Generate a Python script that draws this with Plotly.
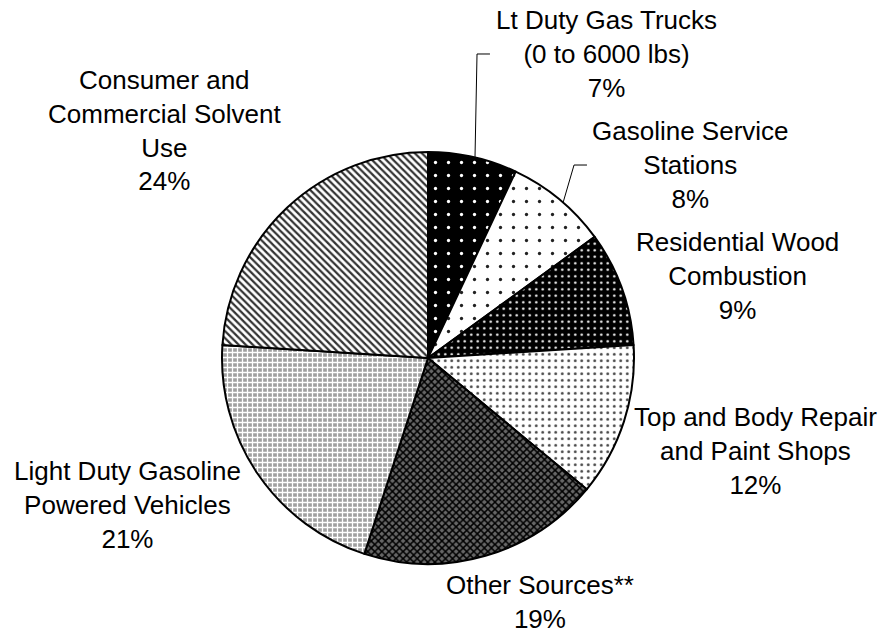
import plotly.graph_objects as go

# ---- data ----
categories = [
    "Lt Duty Gas Trucks (0 to 6000 lbs)",
    "Gasoline Service Stations",
    "Residential Wood Combustion",
    "Top and Body Repair and Paint Shops",
    "Other Sources**",
    "Light Duty Gasoline Powered Vehicles",
    "Consumer and Commercial Solvent Use",
]
values = [7, 8, 9, 12, 19, 21, 24]
label_texts = [
    "Lt Duty Gas Trucks<br>(0 to 6000 lbs)",
    "Gasoline Service<br>Stations",
    "Residential Wood<br>Combustion",
    "Top and Body Repair<br>and Paint Shops",
    "Other Sources**",
    "Light Duty Gasoline<br>Powered Vehicles",
    "Consumer and<br>Commercial Solvent<br>Use",
]

# ---- styles ----
W, H = 886, 633
cx, cy, r = 428, 358, 206

bg = ["black", "white", "black", "white", "#666666", "#a0a0a0", "white"]
fg = ["white", "#222222", "white", "#444444", "black", "white", "#333333"]
shapes_p = [".", ".", ".", ".", "x", "+", "\\"]
sizes_p = [13, 13, 6.5, 6.5, 5, 5, 5]
solid_p = [0.05, 0.05, 0.12, 0.15, 0.5, 0.45, 0.45]

fig = go.Figure(go.Pie(
    labels=categories,
    values=values,
    sort=False,
    direction="clockwise",
    rotation=0,
    textinfo="none",
    hoverinfo="label+percent",
    showlegend=False,
    marker=dict(
        colors=bg,
        line=dict(color="black", width=2),
        pattern=dict(shape=shapes_p, bgcolor=bg, fgcolor=fg,
                     size=sizes_p, solidity=solid_p, fillmode="replace"),
    ),
    domain=dict(x=[(cx - r) / W, (cx + r) / W],
                y=[(H - cy - r) / H, (H - cy + r) / H]),
))

# label positions (pixel centers of the text blocks)
label_pos = [(606, 54), (690, 165), (737, 276), (755, 451), (540, 602), (128, 505), (164, 130)]
annotations = []
for txt, v, (px, py) in zip(label_texts, values, label_pos):
    annotations.append(dict(
        x=px / W, y=1 - py / H, xref="paper", yref="paper",
        text=f"{txt}<br>{v}%", showarrow=False,
        xanchor="center", yanchor="middle", align="center",
        font=dict(family="Liberation Sans, Arial, sans-serif", size=26, color="black"),
    ))

def path(pts):
    s = ""
    for i, (x, y) in enumerate(pts):
        s += ("M" if i == 0 else " L") + f" {x / W:.4f},{1 - y / H:.4f}"
    return s

leaders = [
    [(475, 158), (477, 54), (490, 54)],
    [(563, 203), (574, 165), (587, 165)],
]
shapes = [dict(type="path", xref="paper", yref="paper", path=path(p),
               line=dict(color="black", width=1)) for p in leaders]

fig.update_layout(
    width=W, height=H,
    margin=dict(l=0, r=0, t=0, b=0),
    paper_bgcolor="white", plot_bgcolor="white",
    annotations=annotations, shapes=shapes,
)

fig.write_html("out.html", config={"displayModeBar": False},
               post_script="document.body.style.margin='0px';")
